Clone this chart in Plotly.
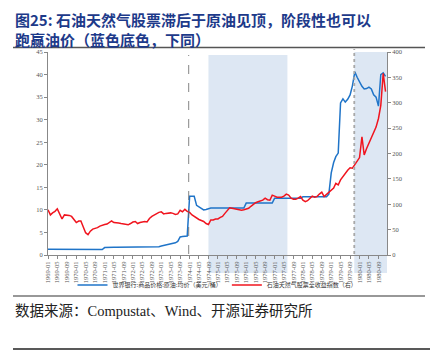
import pandas as pd
import plotly.graph_objects as go

# ---------------- data ----------------
months = pd.date_range(start="1969-01-01", periods=144, freq="MS")

oil_price = (
    [1.30] * 12 +                                             # 1969
    [1.22] * 12 +                                             # 1970
    [1.65] + [1.70] * 11 +                                    # 1971
    [1.85] * 12 +                                             # 1972
    [2.0, 2.1, 2.2, 2.3, 2.4, 2.5, 2.7, 3.0, 4.0, 4.1, 4.1, 4.2] +   # 1973
    [13.0, 13.0, 13.0, 11.0, 10.6, 10.2, 10.0, 10.1, 10.3, 10.4, 10.4, 10.4] +  # 1974
    [10.4] * 12 +                                             # 1975
    [11.5] * 12 +                                             # 1976
    [12.6] * 12 +                                             # 1977
    [12.9] * 11 + [13.5] +                                    # 1978
    [18.2, 20.5, 21.8, 22.6, 33.7, 34.6, 33.9, 34.5, 35.5, 37.5, 40.6, 39.4] +  # 1979
    [38.3, 37.4, 36.8, 36.9, 37.2, 36.8, 35.5, 35.0, 33.0, 40.0, 40.4, 39.6]    # 1980
)

og_index = [
    89, 79, 83, 86, 91, 80, 71, 79, 79, 78, 76, 71,          # 1969
    64, 67, 67, 55, 44, 40, 47, 51, 52, 54, 57, 59,          # 1970
    60, 61, 64, 67, 64, 64, 63, 62, 61, 60, 59.5, 62,        # 1971
    65, 66, 62, 64, 65, 66, 65, 72, 76, 79, 82, 84,          # 1972
    85, 81, 82, 83, 83, 82, 80, 81, 88, 85, 90, 86,          # 1973
    84, 79, 76, 72, 70, 68, 66, 62, 60, 69, 69, 71,          # 1974
    71, 74, 76, 82, 87, 93, 92, 91, 89, 88, 88, 89,          # 1975
    90, 92, 96, 100, 103, 105, 106, 108, 112, 109, 108, 118, # 1976
    116, 114, 114, 114, 116, 120, 118, 112, 110, 110, 112, 115,  # 1977
    108, 105, 107, 112, 116, 114, 115, 120, 124, 115, 119, 124,  # 1978
    127, 132, 141, 138, 148, 155, 160, 167, 172, 171, 178, 186,  # 1979
    192, 233, 197, 210, 220, 230, 240, 252, 269, 295, 358, 322,  # 1980
]

series_names = ["世界银行:商品价格:原油:均价（美元/桶）", "石油天然气股票全收益指数（右）"]
title_lines = ["图25: 石油天然气股票滞后于原油见顶，阶段性也可以", "跑赢油价（蓝色底色，下同）"]
source_text = "数据来源：Compustat、Wind、开源证券研究所"
footer_text = "请务必参阅正文之后的信息披露和法律声明"

shade_periods = [("1974-09-01", "1977-06-15"), ("1979-10-25", "1980-12-20")]
peak_lines = ["1973-12-20", "1979-10-25"]

# ---------------- layout helpers (window pixel -> paper) ----------------
# the page body has an 8px default margin, so the figure is placed at (8, 8)
OFF = 8
W, H = 438 - OFF, 356 - OFF
L, R, T, B = 48 - OFF, 387 - OFF, 52 - OFF, 255 - OFF


def px_x(px):
    return (px - OFF - L) / (R - L)


def px_y(py):
    return (B - (py - OFF)) / (B - T)


fig = go.Figure()
fig.add_trace(go.Scatter(x=months, y=oil_price, name=series_names[0], mode="lines",
                         line=dict(color="#1f74c8", width=1.5), yaxis="y"))
fig.add_trace(go.Scatter(x=months, y=og_index, name=series_names[1], mode="lines",
                         line=dict(color="#f0141e", width=1.5), yaxis="y2"))

shapes = []
# shaded periods
shapes.append(dict(type="rect", xref="x", yref="paper", x0=shade_periods[0][0], x1=shade_periods[0][1],
                   y0=px_y(273), y1=px_y(55), fillcolor="#dde7f3", line=dict(width=0), layer="below"))
shapes.append(dict(type="rect", xref="x", yref="paper", x0=shade_periods[1][0], x1=shade_periods[1][1],
                   y0=px_y(273), y1=px_y(52), fillcolor="#dde7f3", line=dict(width=0), layer="below"))
# dashed peak lines
shapes.append(dict(type="line", xref="x", yref="paper", x0=peak_lines[0], x1=peak_lines[0],
                   y0=px_y(254), y1=px_y(55), line=dict(color="#666666", width=0.8, dash="dash")))
shapes.append(dict(type="line", xref="x", yref="paper", x0=peak_lines[1], x1=peak_lines[1],
                   y0=px_y(254), y1=px_y(49), line=dict(color="#a8a8a8", width=1.8, dash="dot")))
# rules
shapes.append(dict(type="line", xref="paper", yref="paper", x0=px_x(13), x1=px_x(425),
                   y0=px_y(47.5), y1=px_y(47.5), line=dict(color="#555555", width=1.5)))
shapes.append(dict(type="line", xref="paper", yref="paper", x0=px_x(13), x1=px_x(425),
                   y0=px_y(296), y1=px_y(296), line=dict(color="#333333", width=1.2)))
shapes.append(dict(type="line", xref="paper", yref="paper", x0=px_x(13), x1=px_x(438),
                   y0=px_y(349), y1=px_y(349), line=dict(color="#222222", width=1.5)))

title_font = dict(family="Noto Sans CJK SC", size=15, color="#1d3a8a")
annotations = [
    dict(xref="paper", yref="paper", x=px_x(13), y=px_y(29.0), xanchor="left", yanchor="middle",
         align="left", text="<b>" + title_lines[0] + "</b><br><b>" + title_lines[1] + "</b>",
         showarrow=False, font=title_font),
    dict(xref="paper", yref="paper", x=px_x(13), y=px_y(311), xanchor="left", yanchor="middle",
         text=source_text, showarrow=False,
         font=dict(family="Liberation Serif, Noto Sans CJK SC", size=14.5, color="#222222")),
    dict(xref="paper", yref="paper", x=px_x(13), y=px_y(352), xanchor="left", yanchor="top",
         text=footer_text, showarrow=False,
         font=dict(family="Noto Sans CJK SC", size=14.5, color="#222222")),
]

tick_font = dict(family="Liberation Serif", size=6.5, color="#555555")

fig.update_layout(
    width=W, height=H,
    margin=dict(l=L, r=W - R, t=T, b=H - B, pad=0),
    paper_bgcolor="white", plot_bgcolor="rgba(0,0,0,0)",
    showlegend=True,
    legend=dict(orientation="h", x=0.5, xanchor="center", y=px_y(285), yanchor="middle",
                font=dict(family="Noto Sans CJK SC", size=6, color="#333333"),
                bgcolor="rgba(0,0,0,0)", itemwidth=30, tracegroupgap=0),
    xaxis=dict(type="date", range=["1969-01-01", "1980-12-20"],
               tick0="1969-01-01", dtick="M4", tickformat="%Y-%m", tickangle=-90,
               showgrid=False, zeroline=False, showline=True, linecolor="#888888", linewidth=1,
               ticks="outside", ticklen=3, tickcolor="#888888", tickfont=tick_font),
    yaxis=dict(range=[0, 45], dtick=5, showgrid=False, zeroline=False, showline=True,
               linecolor="#888888", linewidth=1, ticks="outside", ticklen=3, tickcolor="#888888",
               tickfont=tick_font),
    yaxis2=dict(range=[0, 400], dtick=50, overlaying="y", side="right", showgrid=False,
                zeroline=False, showline=True, linecolor="#888888", linewidth=1, ticks="outside",
                ticklen=3, tickcolor="#888888", tickfont=tick_font),
    shapes=shapes,
    annotations=annotations,
)

fig.write_html("out.html")
